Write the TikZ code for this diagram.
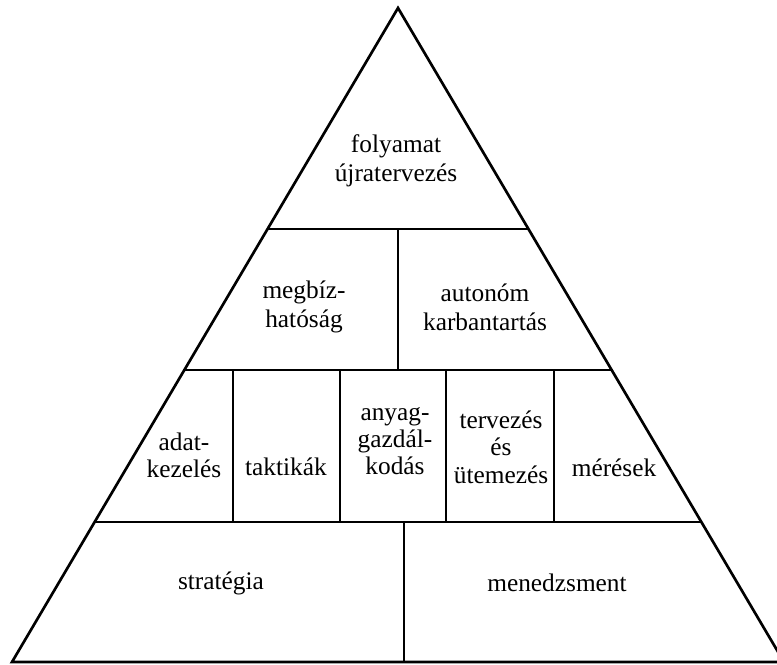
\documentclass[tikz,border=0pt]{standalone}
\usepackage{fontspec}
\setmainfont{Liberation Serif}
\usetikzlibrary{calc}

\begin{document}
\begin{tikzpicture}[x=0.75pt,y=-0.75pt,line width=2pt,
	txt/.style={align=center,inner sep=0pt,font=\fontsize{19}{21.5}\selectfont},
	txtmid/.style={txt,font=\fontsize{19}{20.5}\selectfont}]
	\useasboundingbox (0,0) rectangle (777,664);
	\clip (0,0) rectangle (777,664);

	% outline
	\coordinate (apex) at (398,8);
	\coordinate (bl) at (12,662);
	\coordinate (br) at (784,662);
	\draw (bl) -- (apex) -- (br) -- cycle;

	% layers
	\coordinate (l1) at ($(apex)!0.338!(bl)$);
	\coordinate (r1) at ($(apex)!0.338!(br)$);
	\coordinate (l2) at ($(apex)!0.5535!(bl)$);
	\coordinate (r2) at ($(apex)!0.5535!(br)$);
	\coordinate (l3) at ($(apex)!0.786!(bl)$);
	\coordinate (r3) at ($(apex)!0.786!(br)$);
	\draw (l1) -- (r1);
	\draw (l2) -- (r2);
	\draw (l3) -- (r3);

	\draw (398,229) -- (398,370);
	\foreach \x in {233,340,446,554}
		\draw (\x,370) -- (\x,522);
	\draw (404,522) -- (404,662);

	% texts
	\node[txt] (ujra) at (396,161) {folyamat\\újratervezés};
	\node[txt] (megb) at (304,307) {megbíz-\\hatóság};
	\node[txt] (auto) at (485,307) {autonóm\\karbantartás};
	\node[txtmid] (adat) at (184,455) {adat-\\kezelés};
	\node[txtmid] (takt) at (286,467) {taktikák};
	\node[txtmid] (anyag) at (395,441) {anyag-\\gazdál-\\kodás};
	\node[txtmid] (terv) at (501,447) {tervezés\\és\\ütemezés};
	\node[txtmid] (mer) at (614,468) {mérések};
	\node[txt] (strat) at (221,583) {stratégia};
	\node[txt] (men) at (557,583) {menedzsment};
\end{tikzpicture}
\end{document}
